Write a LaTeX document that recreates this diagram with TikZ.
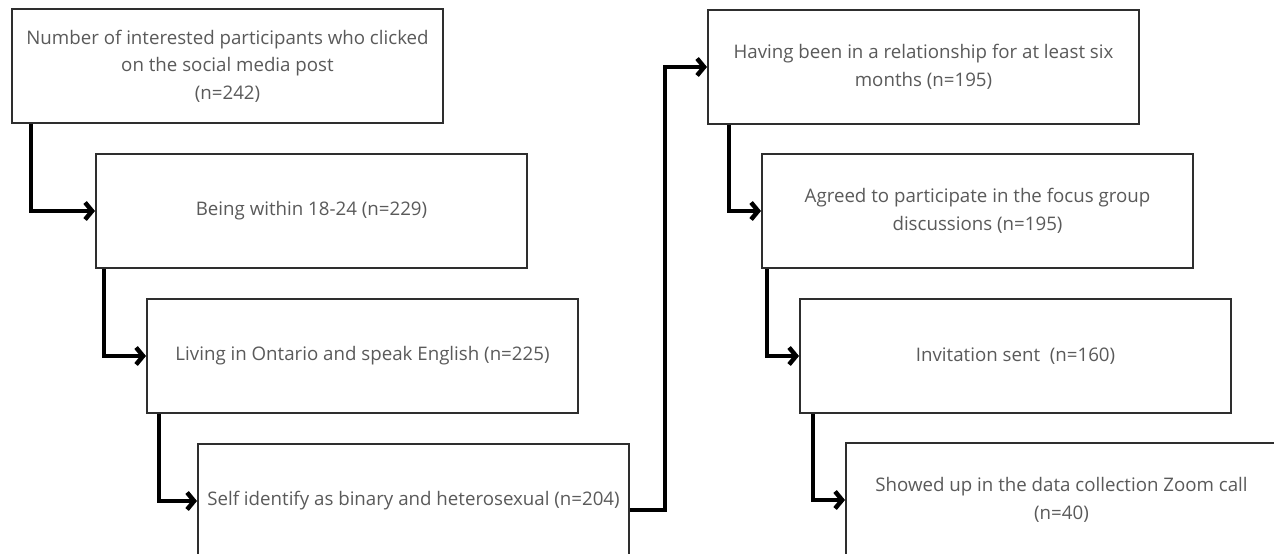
\documentclass[tikz,border=0pt]{standalone}
\usepackage{fontspec}
\setmainfont{Open Sans}
\usetikzlibrary{arrows.meta}
\definecolor{boxline}{HTML}{2E2E2E}
\definecolor{boxtext}{HTML}{5A5A5A}
\tikzset{
  stagebox/.style={draw=boxline, line width=2pt, fill=white, anchor=north west,
    minimum width=431pt, minimum height=114pt, inner sep=0pt,
    align=center, text=boxtext, font=\fontsize{18.7}{27.5}\selectfont},
  flow/.style={draw=black, line width=4.5pt,
    -{Straight Barb[length=7pt,width=17pt,line width=4.5pt]}}
}
\begin{document}
\begin{tikzpicture}[x=1pt,y=-1pt]
  \useasboundingbox (0,0) rectangle (1274,554);
  \clip (0,0) rectangle (1274,554);
  \fill[white] (0,0) rectangle (1274,554);

  % left column of screening steps
  \node[stagebox] (b1) at (11,8)   {Number of interested participants who clicked\\on the social media post\\(n=242)};
  \node[stagebox] (b2) at (95,153) {Being within 18-24 (n=229)};
  \node[stagebox] (b3) at (146,298) {Living in Ontario and speak English (n=225)};
  \node[stagebox] (b4) at (197,443) {Self identify as binary and heterosexual (n=204)};

  % right column of screening steps
  \node[stagebox] (b5) at (707,9)   {Having been in a relationship for at least six\\months (n=195)};
  \node[stagebox] (b6) at (761,153) {Agreed to participate in the focus group\\discussions (n=195)};
  \node[stagebox] (b7) at (799,298) {Invitation sent\ \ (n=160)};
  \node[stagebox] (b8) at (845,442) {Showed up in the data collection Zoom call\\(n=40)};

  % elbow connectors
  \draw[flow] (b1.south west) ++(20,0) |- (b2.west);
  \draw[flow] (b2.south west) ++(9,0)  |- (b3.west);
  \draw[flow] (b3.south west) ++(13,0) |- (b4.west);
  \draw[flow] (b4.east) ++(0,9) -- ++(35,0) |- (b5.west);
  \draw[flow] (b5.south west) ++(22,0) |- (b6.west);
  \draw[flow] (b6.south west) ++(6,0)  |- (b7.west);
  \draw[flow] (b7.south west) ++(14,0) |- (b8.west);
\end{tikzpicture}
\end{document}
